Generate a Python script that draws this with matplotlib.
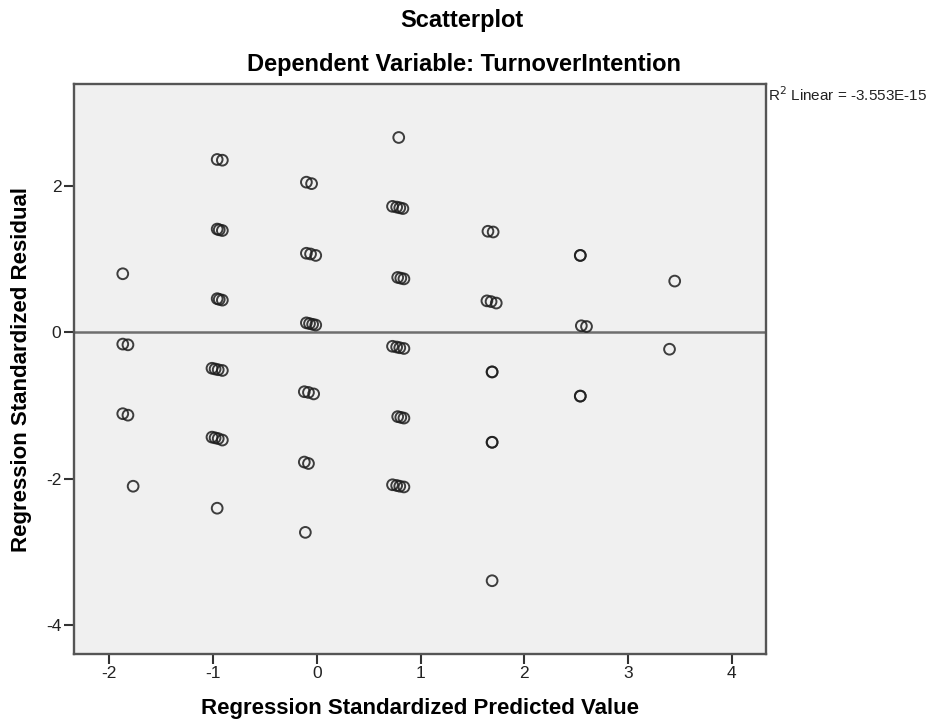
import matplotlib
matplotlib.use("Agg")
import matplotlib.pyplot as plt

# Regression standardized predicted values (x) and residuals (y)
pred = [
    -1.87, -1.87, -1.82, -1.87, -1.82, -1.77,
    -0.96, -0.91,
    -0.96, -0.94, -0.91,
    -0.96, -0.94, -0.91,
    -1.01, -0.98, -0.95, -0.91,
    -1.01, -0.98, -0.95, -0.91,
    -0.96,
    -0.10, -0.05,
    -0.10, -0.06, -0.01,
    -0.10, -0.07, -0.04, -0.01,
    -0.12, -0.08, -0.03,
    -0.12, -0.08,
    -0.11,
    0.79,
    0.73, 0.77, 0.80, 0.83,
    0.78, 0.81, 0.84,
    0.73, 0.77, 0.80, 0.84,
    0.78, 0.81, 0.84,
    0.73, 0.77, 0.80, 0.84,
    1.65, 1.70,
    1.64, 1.68, 1.73,
    1.69, 1.69,
    1.69, 1.69,
    1.69,
    2.54, 2.54,
    2.55, 2.60,
    2.54, 2.54,
    3.45, 3.40,
]
resid = [
    0.80, -0.16, -0.17, -1.11, -1.13, -2.10,
    2.36, 2.35,
    1.41, 1.40, 1.39,
    0.46, 0.45, 0.44,
    -0.49, -0.50, -0.51, -0.52,
    -1.43, -1.44, -1.45, -1.47,
    -2.40,
    2.05, 2.03,
    1.08, 1.07, 1.05,
    0.13, 0.12, 0.11, 0.10,
    -0.81, -0.82, -0.84,
    -1.77, -1.79,
    -2.73,
    2.66,
    1.72, 1.71, 1.70, 1.69,
    0.75, 0.74, 0.73,
    -0.19, -0.20, -0.21, -0.22,
    -1.15, -1.16, -1.17,
    -2.08, -2.09, -2.10, -2.11,
    1.38, 1.37,
    0.43, 0.42, 0.40,
    -0.54, -0.54,
    -1.50, -1.50,
    -3.39,
    1.05, 1.05,
    0.09, 0.08,
    -0.87, -0.87,
    0.70, -0.23,
]
x_ticks = [-2, -1, 0, 1, 2, 3, 4]
y_ticks = [-4, -2, 0, 2]

title1 = "Scatterplot"
title2 = "Dependent Variable: TurnoverIntention"
xlabel = "Regression Standardized Predicted Value"
ylabel = "Regression Standardized Residual"
r2_text = r"R$^2$ Linear = -3.553E-15"

fig = plt.figure(figsize=(9.37, 7.24), dpi=100)
ax = fig.add_axes([74/937, 1-654/724, (766-74)/937, (654-84)/724])
ax.set_facecolor("#f0f0f0")

ax.axhline(0, color="#6e6e6e", lw=1.8, zorder=1)
ax.scatter(pred, resid, s=60, facecolors="none", edgecolors="#1e1e1e",
           linewidths=1.4, alpha=0.85, zorder=3)

ax.set_xlim(-2.34, 4.33)
ax.set_ylim(-4.39, 3.39)
ax.set_xticks(x_ticks)
ax.set_yticks(y_ticks)
ax.set_xticklabels([str(v) for v in x_ticks])
ax.set_yticklabels([str(v) for v in y_ticks])

fam = ["Liberation Sans", "DejaVu Sans"]
for lab in ax.get_xticklabels() + ax.get_yticklabels():
    lab.set_family(fam)
    lab.set_fontsize(12.5)
    lab.set_color("#222222")
ax.tick_params(direction="out", length=7, width=1.5, color="#333333", pad=2)

for sp in ax.spines.values():
    sp.set_color("#555555")
    sp.set_linewidth(1.7)

fig.text(462/937, 1-20/724, title1, ha="center", va="center",
         fontsize=17, fontweight="bold", family=fam)
fig.text(464/937, 1-64/724, title2, ha="center", va="center",
         fontsize=17, fontweight="bold", family=fam)
fig.text(768/937, 1-95/724, r2_text, ha="left", va="center",
         fontsize=11, family=fam, color="#222222")

ax.set_xlabel(xlabel, fontsize=16, fontweight="bold", family=fam, labelpad=12)
ax.set_ylabel(ylabel, fontsize=16, fontweight="bold", family=fam, labelpad=10)

fig.savefig("out.png", dpi=100)
